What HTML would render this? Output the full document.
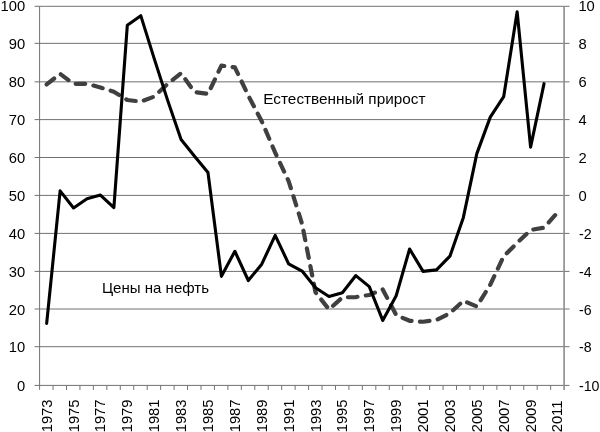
<!DOCTYPE html><html><head><meta charset="utf-8"><title>Chart</title><style>html,body{margin:0;padding:0;background:#fff}svg{display:block}text{font-family:"Liberation Sans","DejaVu Sans",sans-serif;fill:#000}</style></head><body>
<svg width="600" height="432" viewBox="0 0 600 432">
<rect width="600" height="432" fill="#fff"/>
<path d="M34.60 6.30H569.50M34.60 43.35H569.50M34.60 81.85H569.50M34.60 119.60H569.50M34.60 157.50H569.50M34.60 195.40H569.50M34.60 233.40H569.50M34.60 271.40H569.50M34.60 309.00H569.50M34.60 346.70H569.50M34.60 385.40H569.50" stroke="#727272" stroke-width="1" fill="none"/>
<path d="M39.60 6.30V389.90" stroke="#727272" stroke-width="1" fill="none"/>
<path d="M564.10 6.30V389.90" stroke="#8c8c8c" stroke-width="1.6" fill="none"/>
<path d="M53.05 385.40v4.5M66.50 385.40v4.5M79.95 385.40v4.5M93.39 385.40v4.5M106.84 385.40v4.5M120.29 385.40v4.5M133.74 385.40v4.5M147.19 385.40v4.5M160.64 385.40v4.5M174.09 385.40v4.5M187.54 385.40v4.5M200.98 385.40v4.5M214.43 385.40v4.5M227.88 385.40v4.5M241.33 385.40v4.5M254.78 385.40v4.5M268.23 385.40v4.5M281.68 385.40v4.5M295.13 385.40v4.5M308.57 385.40v4.5M322.02 385.40v4.5M335.47 385.40v4.5M348.92 385.40v4.5M362.37 385.40v4.5M375.82 385.40v4.5M389.27 385.40v4.5M402.72 385.40v4.5M416.16 385.40v4.5M429.61 385.40v4.5M443.06 385.40v4.5M456.51 385.40v4.5M469.96 385.40v4.5M483.41 385.40v4.5M496.86 385.40v4.5M510.31 385.40v4.5M523.75 385.40v4.5M537.20 385.40v4.5M550.65 385.40v4.5" stroke="#727272" stroke-width="1" fill="none"/>
<polyline points="46.67,84.44 60.11,73.80 73.56,83.87 87.00,83.87 100.44,87.48 113.88,91.66 127.33,100.02 140.77,101.54 154.21,96.60 167.65,83.87 181.09,73.23 194.54,92.04 207.98,93.94 221.42,65.63 234.86,67.34 248.31,95.65 261.75,121.30 275.19,152.65 288.63,181.15 302.07,223.90 315.52,292.30 328.96,309.40 342.40,297.43 355.84,297.05 369.29,294.96 382.73,289.45 396.17,315.10 409.61,320.80 423.06,321.75 436.50,319.85 449.94,313.20 463.38,300.85 476.82,306.55 490.27,284.70 503.71,256.20 517.15,242.90 530.59,229.98 544.04,227.70 557.48,212.50" fill="none" stroke="#404040" stroke-width="4.2" stroke-dasharray="9.6 8.4" stroke-linecap="round" stroke-linejoin="round"/>
<polyline points="46.67,323.46 60.11,190.84 73.56,207.94 87.00,198.82 100.44,195.02 113.88,207.56 127.33,25.16 140.77,15.66 154.21,58.60 167.65,100.40 181.09,139.54 194.54,156.26 207.98,172.60 221.42,276.34 234.86,251.26 248.31,280.52 261.75,264.18 275.19,235.30 288.63,263.80 302.07,271.02 315.52,287.74 328.96,296.48 342.40,292.68 355.84,275.58 369.29,286.60 382.73,320.42 396.17,295.72 409.61,248.98 423.06,271.40 436.50,269.88 449.94,256.20 463.38,217.44 476.82,153.60 490.27,117.12 503.71,96.60 517.15,11.86 530.59,147.14 544.04,83.68" fill="none" stroke="#000" stroke-width="3.1" stroke-linejoin="round" stroke-linecap="round"/>
<text transform="translate(25.2 11.00) scale(1.04 1)" font-size="14.2" text-anchor="end">100</text>
<text transform="translate(578.4 11.20) scale(1.04 1)" font-size="14.2">10</text>
<text transform="translate(25.2 48.85) scale(1.04 1)" font-size="14.2" text-anchor="end">90</text>
<text transform="translate(578.4 48.85) scale(1.04 1)" font-size="14.2">8</text>
<text transform="translate(25.2 87.35) scale(1.04 1)" font-size="14.2" text-anchor="end">80</text>
<text transform="translate(578.4 87.35) scale(1.04 1)" font-size="14.2">6</text>
<text transform="translate(25.2 125.10) scale(1.04 1)" font-size="14.2" text-anchor="end">70</text>
<text transform="translate(578.4 125.10) scale(1.04 1)" font-size="14.2">4</text>
<text transform="translate(25.2 163.00) scale(1.04 1)" font-size="14.2" text-anchor="end">60</text>
<text transform="translate(578.4 163.00) scale(1.04 1)" font-size="14.2">2</text>
<text transform="translate(25.2 200.90) scale(1.04 1)" font-size="14.2" text-anchor="end">50</text>
<text transform="translate(578.4 200.90) scale(1.04 1)" font-size="14.2">0</text>
<text transform="translate(25.2 238.90) scale(1.04 1)" font-size="14.2" text-anchor="end">40</text>
<text transform="translate(579.0 238.90) scale(1.0 1)" font-size="14.2">-2</text>
<text transform="translate(25.2 276.90) scale(1.04 1)" font-size="14.2" text-anchor="end">30</text>
<text transform="translate(579.0 276.90) scale(1.0 1)" font-size="14.2">-4</text>
<text transform="translate(25.2 314.50) scale(1.04 1)" font-size="14.2" text-anchor="end">20</text>
<text transform="translate(579.0 314.50) scale(1.0 1)" font-size="14.2">-6</text>
<text transform="translate(25.2 352.20) scale(1.04 1)" font-size="14.2" text-anchor="end">10</text>
<text transform="translate(579.0 352.20) scale(1.0 1)" font-size="14.2">-8</text>
<text transform="translate(25.2 390.90) scale(1.04 1)" font-size="14.2" text-anchor="end">0</text>
<text transform="translate(579.0 390.90) scale(1.0 1)" font-size="14.2">-10</text>
<text transform="translate(51.67 432.3) rotate(-90) scale(1.04 1)" font-size="14.2">1973</text>
<text transform="translate(78.56 432.3) rotate(-90) scale(1.04 1)" font-size="14.2">1975</text>
<text transform="translate(105.44 432.3) rotate(-90) scale(1.04 1)" font-size="14.2">1977</text>
<text transform="translate(132.32 432.3) rotate(-90) scale(1.04 1)" font-size="14.2">1979</text>
<text transform="translate(159.21 432.3) rotate(-90) scale(1.04 1)" font-size="14.2">1981</text>
<text transform="translate(186.09 432.3) rotate(-90) scale(1.04 1)" font-size="14.2">1983</text>
<text transform="translate(212.98 432.3) rotate(-90) scale(1.04 1)" font-size="14.2">1985</text>
<text transform="translate(239.86 432.3) rotate(-90) scale(1.04 1)" font-size="14.2">1987</text>
<text transform="translate(266.75 432.3) rotate(-90) scale(1.04 1)" font-size="14.2">1989</text>
<text transform="translate(293.63 432.3) rotate(-90) scale(1.04 1)" font-size="14.2">1991</text>
<text transform="translate(320.52 432.3) rotate(-90) scale(1.04 1)" font-size="14.2">1993</text>
<text transform="translate(347.40 432.3) rotate(-90) scale(1.04 1)" font-size="14.2">1995</text>
<text transform="translate(374.29 432.3) rotate(-90) scale(1.04 1)" font-size="14.2">1997</text>
<text transform="translate(401.17 432.3) rotate(-90) scale(1.04 1)" font-size="14.2">1999</text>
<text transform="translate(428.06 432.3) rotate(-90) scale(1.04 1)" font-size="14.2">2001</text>
<text transform="translate(454.94 432.3) rotate(-90) scale(1.04 1)" font-size="14.2">2003</text>
<text transform="translate(481.82 432.3) rotate(-90) scale(1.04 1)" font-size="14.2">2005</text>
<text transform="translate(508.71 432.3) rotate(-90) scale(1.04 1)" font-size="14.2">2007</text>
<text transform="translate(535.59 432.3) rotate(-90) scale(1.04 1)" font-size="14.2">2009</text>
<text transform="translate(562.48 432.3) rotate(-90) scale(1.04 1)" font-size="14.2">2011</text>
<text x="263.3" y="103.7" font-size="14.6" textLength="162.2" lengthAdjust="spacingAndGlyphs">Естественный прирост</text>
<text x="101.9" y="292.7" font-size="14.6" textLength="107.2" lengthAdjust="spacingAndGlyphs">Цены на нефть</text>
</svg></body></html>
